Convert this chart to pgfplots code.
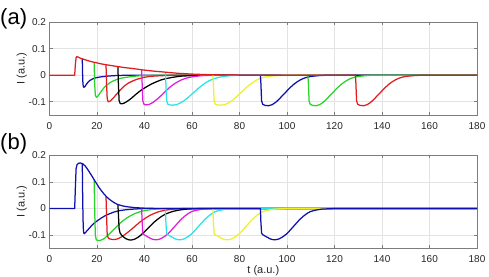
\documentclass[border=0pt]{standalone}
\usepackage{fontspec}
\setmainfont{Liberation Sans}
\usepackage{pgfplots}
\pgfplotsset{compat=1.18}

% line colours of the two panels
\definecolor{cblue}{RGB}{15,15,175}
\definecolor{cgreen}{RGB}{40,212,40}
\definecolor{cred}{RGB}{222,30,30}
\definecolor{cblack}{RGB}{0,0,0}
\definecolor{cmag}{RGB}{222,30,222}
\definecolor{ccyan}{RGB}{40,228,228}
\definecolor{cyel}{RGB}{240,240,40}
\definecolor{framegray}{RGB}{125,125,125}
\definecolor{textgray}{RGB}{38,38,38}

\pgfplotsset{
  panel/.style={
    scale only axis, width=427.5pt, height=93pt, anchor=south west,
    xmin=0, xmax=180, ymin=-0.15, ymax=0.2,
    xtick={0,20,...,180},
    ytick={-0.1,0,0.1,0.2}, yticklabels={-0.1,0,0.1,0.2},
    grid=major, major grid style={gray!22, line width=0.5pt},
    axis line style={draw=framegray, line width=0.6pt},
    tick align=inside, major tick length=3pt,
    tick style={framegray, line width=0.5pt},
    ticklabel style={font=\fontsize{10}{12}\selectfont, text=textgray},
    xticklabel style={yshift=-4pt},
    /pgf/number format/assume math mode=true,
    every axis plot/.append style={line width=1.25pt, line join=round, mark=none},
  }
}

\begin{document}
\begin{tikzpicture}
\useasboundingbox (0,0) rectangle (489pt,276pt);

% ---------------- panel (a) ----------------
\begin{axis}[panel, at={(49.5pt,161pt)}]
% switch at t = 14
\addplot[cblue] coordinates {(13.8,0.061) (14.0,-0.02) (14.2,-0.042) (14.5,-0.046) (15,-0.042) (15.5,-0.035) (16,-0.029) (17,-0.020) (18,-0.015) (19,-0.011) (20,-0.009) (22,-0.006) (24,-0.004) (27,-0.002) (30,-0.001) (35,0) (180,0)};
% switch at t = 19
\addplot[cgreen] coordinates {(18.8,0.048) (19.0,-0.03) (19.3,-0.075) (19.7,-0.083) (20.3,-0.080) (21,-0.071) (22,-0.058) (23,-0.047) (24,-0.038) (25.5,-0.028) (27,-0.021) (29,-0.014) (31,-0.010) (34,-0.006) (37,-0.003) (41,-0.0015) (46,0) (180,0)};
% switch at t = 24
\addplot[cred] coordinates {(23.8,0.039) (24.0,-0.03) (24.3,-0.088) (24.7,-0.100) (25.3,-0.099) (26,-0.094) (27,-0.085) (28,-0.074) (29,-0.064) (30,-0.054) (31.5,-0.041) (33,-0.031) (35,-0.022) (37,-0.015) (39.5,-0.009) (42,-0.005) (45,-0.003) (50,-0.001) (55,0) (180,0)};
% switch at t = 29
\addplot[cblack] coordinates {(28.8,0.032) (29.0,-0.03) (29.3,-0.095) (29.8,-0.107) (30.5,-0.108) (31.5,-0.105) (33,-0.097) (34.5,-0.087) (36,-0.075) (37.5,-0.064) (39,-0.054) (41,-0.043) (43,-0.033) (45,-0.025) (47,-0.018) (49,-0.013) (52,-0.008) (55,-0.004) (59,-0.002) (64,0) (180,0)};
% switch at t = 39
\addplot[cmag] coordinates {(38.8,0.020) (39.0,-0.03) (39.3,-0.097) (39.8,-0.110) (40.7,-0.112) (42,-0.110) (43.5,-0.103) (45,-0.093) (46.5,-0.081) (48,-0.068) (49.5,-0.055) (51,-0.043) (52.5,-0.033) (54,-0.025) (55.5,-0.018) (57,-0.013) (59,-0.008) (61,-0.005) (64,-0.002) (68,-0.0005) (72,0) (180,0)};
% switch at t = 49
\addplot[ccyan] coordinates {(48.8,0.011) (49.0,-0.03) (49.3,-0.095) (49.8,-0.109) (50.7,-0.112) (52,-0.113) (53.5,-0.111) (55,-0.105) (56.5,-0.097) (58,-0.087) (59.5,-0.075) (61,-0.063) (62.5,-0.051) (64,-0.040) (65.5,-0.030) (67,-0.022) (69,-0.014) (71,-0.009) (73,-0.005) (76,-0.002) (80,0) (180,0)};
% switch at t = 69
\addplot[cyel] coordinates {(68.8,0.001) (69.0,-0.03) (69.3,-0.095) (69.8,-0.109) (70.8,-0.112) (72.3,-0.113) (73.8,-0.111) (75.3,-0.105) (76.8,-0.096) (78.3,-0.085) (79.8,-0.073) (81.3,-0.060) (82.8,-0.047) (84.3,-0.036) (85.8,-0.026) (87.3,-0.018) (88.8,-0.012) (90.8,-0.007) (92.8,-0.004) (95.8,-0.002) (99.8,0) (180,0)};
% switch at t = 89
\addplot[cblue] coordinates {(88.8,0) (89.0,-0.03) (89.3,-0.097) (89.8,-0.110) (90.8,-0.114) (92.3,-0.115) (93.8,-0.111) (95.3,-0.102) (96.8,-0.089) (98.3,-0.075) (99.8,-0.061) (101.3,-0.047) (102.8,-0.035) (104.3,-0.025) (105.8,-0.017) (107.3,-0.011) (108.8,-0.007) (110.8,-0.004) (113.8,-0.0015) (117.8,0) (180,0)};
% switch at t = 109
\addplot[cgreen] coordinates {(108.8,0) (109.0,-0.03) (109.3,-0.097) (109.8,-0.110) (110.8,-0.114) (112.3,-0.115) (113.8,-0.111) (115.3,-0.102) (116.8,-0.089) (118.3,-0.075) (119.8,-0.061) (121.3,-0.047) (122.8,-0.035) (124.3,-0.025) (125.8,-0.017) (127.3,-0.011) (128.8,-0.007) (130.8,-0.004) (133.8,-0.0015) (137.8,0) (180,0)};
% full trace, switch at t = 129
\addplot[cred] coordinates {(0,0) (10.6,0) (10.9,0.04) (11.2,0.066) (11.5,0.070) (12,0.068) (13,0.064) (14,0.061) (16,0.055) (18,0.050) (19,0.048) (22,0.042) (24,0.039) (26,0.036) (29,0.032) (32,0.028) (35,0.025) (39,0.020) (44,0.015) (49,0.011) (54,0.007) (60,0.004) (66,0.002) (72,0.001) (80,0) (128.8,0) (129.0,-0.03) (129.3,-0.097) (129.8,-0.110) (130.8,-0.114) (132.3,-0.115) (133.8,-0.111) (135.3,-0.102) (136.8,-0.089) (138.3,-0.075) (139.8,-0.061) (141.3,-0.047) (142.8,-0.035) (144.3,-0.025) (145.8,-0.017) (147.3,-0.011) (148.8,-0.007) (150.8,-0.004) (153.8,-0.0015) (157.8,0) (180,0)};
\end{axis}

% ---------------- panel (b) ----------------
\begin{axis}[panel, at={(49.5pt,27.7pt)}]
% switch at t = 14
\addplot[cblue] coordinates {(13.8,0.169) (14.0,0.02) (14.2,-0.07) (14.4,-0.092) (14.7,-0.095) (15.2,-0.090) (16,-0.082) (17,-0.072) (18,-0.062) (19,-0.054) (20.5,-0.044) (22,-0.035) (23.5,-0.027) (25,-0.021) (27,-0.014) (29,-0.009) (32,-0.005) (36,-0.002) (41,0) (180,0)};
% switch at t = 19
\addplot[cgreen] coordinates {(18.8,0.108) (19.0,0.0) (19.3,-0.10) (19.7,-0.118) (20.5,-0.121) (21.5,-0.120) (22.5,-0.116) (23.5,-0.110) (24.5,-0.102) (25.5,-0.093) (26.5,-0.084) (27.5,-0.075) (28.5,-0.066) (29.5,-0.057) (31,-0.046) (32.5,-0.036) (34,-0.028) (36,-0.019) (38,-0.013) (40,-0.008) (43,-0.004) (47,-0.001) (52,0) (180,0)};
% switch at t = 24
\addplot[cred] coordinates {(23.8,0.044) (24.0,-0.02) (24.3,-0.100) (24.8,-0.112) (25.5,-0.115) (26.5,-0.117) (27.5,-0.117) (28.5,-0.115) (29.5,-0.111) (30.5,-0.106) (31.5,-0.100) (32.5,-0.093) (33.5,-0.086) (35,-0.075) (36.5,-0.063) (38,-0.052) (39.5,-0.042) (41,-0.033) (42.5,-0.025) (44,-0.019) (46,-0.012) (48,-0.008) (50,-0.005) (53,-0.002) (57,0) (180,0)};
% switch at t = 29
\addplot[cblack] coordinates {(28.8,0.014) (29.0,-0.02) (29.3,-0.075) (29.7,-0.092) (30.3,-0.100) (31,-0.106) (32,-0.113) (33,-0.117) (34,-0.119) (35,-0.118) (36,-0.115) (37,-0.110) (38,-0.104) (39,-0.096) (40,-0.088) (41,-0.079) (42,-0.070) (43,-0.061) (44,-0.052) (45.5,-0.041) (47,-0.031) (48.5,-0.023) (50,-0.017) (52,-0.011) (54,-0.007) (57,-0.003) (61,-0.001) (65,0) (180,0)};
% switch at t = 39
\addplot[cmag] coordinates {(38.8,0.001) (39.0,-0.05) (39.3,-0.093) (39.8,-0.099) (40.8,-0.104) (41.8,-0.109) (42.8,-0.114) (43.8,-0.117) (44.8,-0.118) (45.8,-0.117) (46.8,-0.114) (47.8,-0.109) (48.8,-0.103) (49.8,-0.096) (50.8,-0.087) (51.8,-0.077) (52.8,-0.067) (53.8,-0.057) (54.8,-0.047) (55.8,-0.038) (56.8,-0.030) (57.8,-0.023) (58.8,-0.017) (59.8,-0.012) (61.3,-0.008) (62.8,-0.005) (64.8,-0.0025) (67.8,-0.001) (71.8,0) (180,0)};
% switch at t = 49
\addplot[ccyan] coordinates {(48.8,0) (49.0,-0.05) (49.3,-0.093) (49.8,-0.099) (50.8,-0.104) (51.8,-0.109) (52.8,-0.114) (53.8,-0.117) (54.8,-0.118) (55.8,-0.117) (56.8,-0.114) (57.8,-0.109) (58.8,-0.103) (59.8,-0.096) (60.8,-0.087) (61.8,-0.077) (62.8,-0.067) (63.8,-0.057) (64.8,-0.047) (65.8,-0.038) (66.8,-0.030) (67.8,-0.023) (68.8,-0.017) (69.8,-0.012) (71.3,-0.008) (72.8,-0.005) (74.8,-0.0025) (77.8,-0.001) (81.8,0) (180,0)};
% switch at t = 69
\addplot[cyel] coordinates {(68.8,0) (69.0,-0.05) (69.3,-0.093) (69.8,-0.099) (70.8,-0.104) (71.8,-0.109) (72.8,-0.114) (73.8,-0.117) (74.8,-0.118) (75.8,-0.117) (76.8,-0.114) (77.8,-0.109) (78.8,-0.103) (79.8,-0.096) (80.8,-0.087) (81.8,-0.077) (82.8,-0.067) (83.8,-0.057) (84.8,-0.047) (85.8,-0.038) (86.8,-0.030) (87.8,-0.023) (88.8,-0.017) (89.8,-0.012) (91.3,-0.008) (92.8,-0.005) (94.8,-0.0025) (97.8,-0.001) (101.8,0) (180,0)};
% full trace, switch at t = 89
\addplot[cblue] coordinates {(0,0) (10.6,0) (10.9,0.08) (11.2,0.150) (11.6,0.165) (12.2,0.170) (13,0.171) (14,0.168) (15,0.160) (16,0.148) (17,0.134) (18,0.120) (19,0.105) (20,0.091) (21,0.077) (22,0.065) (23,0.054) (24,0.044) (25,0.036) (26,0.029) (27,0.023) (28,0.018) (29,0.014) (31,0.009) (33,0.006) (36,0.003) (40,0.001) (45,0) (88.8,0) (89.0,-0.05) (89.3,-0.093) (89.8,-0.099) (90.8,-0.104) (91.8,-0.109) (92.8,-0.114) (93.8,-0.117) (94.8,-0.118) (95.8,-0.117) (96.8,-0.114) (97.8,-0.109) (98.8,-0.103) (99.8,-0.096) (100.8,-0.087) (101.8,-0.077) (102.8,-0.067) (103.8,-0.057) (104.8,-0.047) (105.8,-0.038) (106.8,-0.030) (107.8,-0.023) (108.8,-0.017) (109.8,-0.012) (111.3,-0.008) (112.8,-0.005) (114.8,-0.0025) (117.8,-0.001) (121.8,0) (180,0)};
\end{axis}

% axis titles and panel letters
\node[rotate=90, font=\fontsize{11}{13}\selectfont, text=textgray] at (21.7pt,207.5pt) {I (a.u.)};
\node[rotate=90, font=\fontsize{11}{13}\selectfont, text=textgray] at (21.7pt,74.4pt) {I (a.u.)};
\node[font=\fontsize{11}{13}\selectfont, text=textgray] at (263.3pt,5pt) {t (a.u.)};
\node[anchor=base west, inner sep=0pt, font=\fontsize{22}{26}\selectfont] at (0pt,251pt) {(a)};
\node[anchor=base west, inner sep=0pt, font=\fontsize{22}{26}\selectfont] at (0pt,127pt) {(b)};
\end{tikzpicture}
\end{document}
